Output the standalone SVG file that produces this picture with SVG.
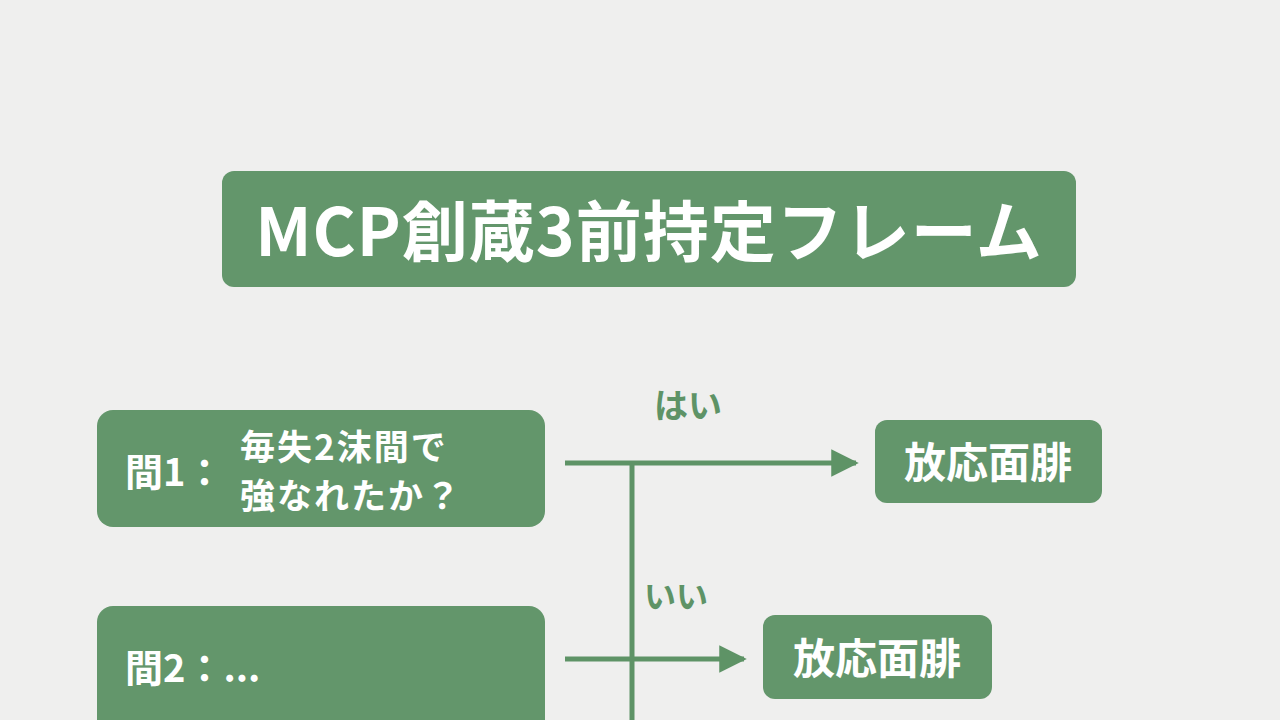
<svg xmlns="http://www.w3.org/2000/svg" width="1280" height="720" viewBox="0 0 1280 720">
<defs>
<style>
.box{fill:#63966b;}
.wt{fill:#ffffff;font-family:"Noto Sans CJK JP","Noto Sans",sans-serif;font-weight:700;}
.gt{fill:#5e9366;font-family:"Noto Sans CJK JP","Noto Sans",sans-serif;font-weight:700;}
.ln{stroke:#5e9366;stroke-width:5;fill:none;}
</style>
<marker id="ah" viewBox="0 0 10 10" refX="9" refY="5" markerWidth="5.5" markerHeight="5.5" orient="auto" markerUnits="strokeWidth">
<path d="M0,0 L10,5 L0,10 z" fill="#5e9366"/>
</marker>
</defs>
<rect width="1280" height="720" fill="#efefee"/>
<g id="title">
<rect class="box" x="222" y="171" width="854" height="116" rx="12"/>
<text class="wt" x="649" y="256" font-size="66" letter-spacing="1" text-anchor="middle">MCP創蔵3前持定フレーム</text>
</g>
<g id="q1">
<rect class="box" x="97" y="410" width="448" height="117" rx="16"/>
<text class="wt" x="125" y="486" font-size="38">間1：</text>
<text class="wt" x="240" y="460" font-size="35" letter-spacing="2">毎失2沫間で</text>
<text class="wt" x="240" y="509" font-size="35" letter-spacing="2">強なれたか？</text>
</g>
<g id="r1">
<rect class="box" x="875" y="420" width="227" height="83" rx="12"/>
<text class="wt" x="988" y="478" font-size="42" text-anchor="middle">放応面腓</text>
</g>
<g id="q2">
<rect class="box" x="97" y="606" width="448" height="130" rx="16"/>
<text class="wt" x="125" y="682" font-size="38">間2：...</text>
</g>
<g id="r2">
<rect class="box" x="763" y="615" width="229" height="84" rx="12"/>
<text class="wt" x="877" y="674" font-size="42" text-anchor="middle">放応面腓</text>
</g>
<g id="connectors">
<line class="ln" x1="565" y1="463" x2="856" y2="463" marker-end="url(#ah)"/>
<line class="ln" x1="632" y1="463" x2="632" y2="720"/>
<line class="ln" x1="565" y1="659" x2="744" y2="659" marker-end="url(#ah)"/>
<text class="gt" x="688" y="418" font-size="34" text-anchor="middle">はい</text>
<text class="gt" x="676" y="608" font-size="32" font-weight="500" text-anchor="middle">いい</text>
</g>
</svg>
